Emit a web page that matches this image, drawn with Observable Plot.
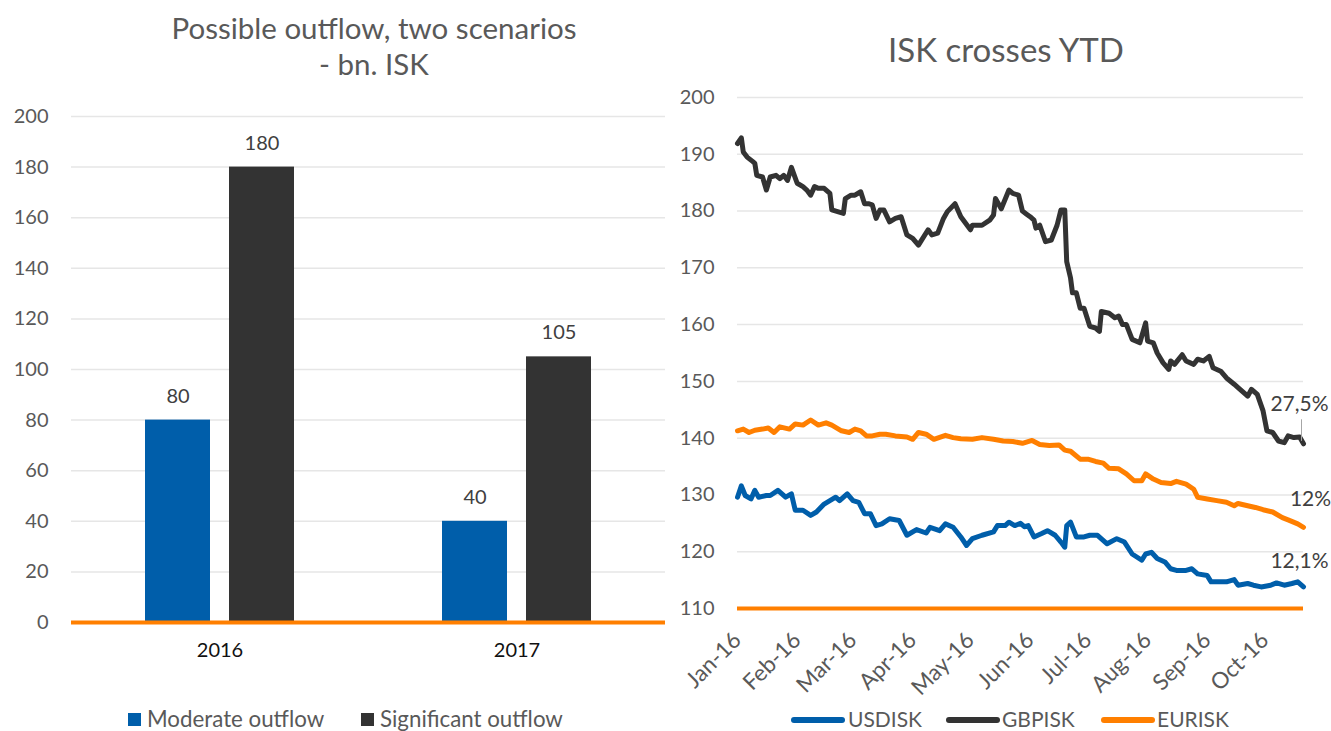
<!DOCTYPE html>
<html><head><meta charset="utf-8">
<script src="https://cdn.jsdelivr.net/npm/d3@7"></script>
<script src="https://cdn.jsdelivr.net/npm/@observablehq/plot@0.6"></script>
<style>
body{margin:0;background:#fff;font-family:Lato,"Open Sans",sans-serif;}
#root{position:relative;width:1331px;height:731px;overflow:hidden;background:#fff;}
.abs{position:absolute;}
.title{color:#595959;text-align:center;white-space:nowrap;}
.leg{position:absolute;color:#595959;font-size:21px;line-height:22px;white-space:nowrap;}
</style></head><body><div id="root">
<div class="abs title" style="left:0;width:748px;top:10px;font-size:29.5px;line-height:36px;">Possible outflow, two scenarios<br>- bn. ISK</div>
<div class="abs title" style="left:806px;width:400px;top:28px;font-size:33px;line-height:42px;">ISK crosses YTD</div>
<div id="left" class="abs" style="left:0;top:96px;"></div>
<div id="right" class="abs" style="left:660px;top:80px;"></div>
<div id="legLeft"></div>
<div id="legRight"></div>
</div>
<script>
// ---- Left chart data ----
const years = ["2016", "2017"];
const scenarios = ["Moderate outflow", "Significant outflow"];
const moderate = [80, 40];
const significant = [180, 105];
const leftTicks = [0, 20, 40, 60, 80, 100, 120, 140, 160, 180, 200];

// ---- Right chart data ----
const seriesNames = ["USDISK", "GBPISK", "EURISK"];
const endLabels = ["12,1%", "27,5%", "12%"];
const rightTicks = [110, 120, 130, 140, 150, 160, 170, 180, 190, 200];
const usdisk = [
["2016-01-01",129.6],["2016-01-03",131.6],["2016-01-05",129.9],["2016-01-08",129.3],["2016-01-10",130.8],
["2016-01-12",129.6],["2016-01-16",129.9],["2016-01-18",129.9],["2016-01-22",130.8],["2016-01-26",129.6],
["2016-01-29",130.2],["2016-01-31",127.3],["2016-02-04",127.3],["2016-02-08",126.4],["2016-02-11",127.0],
["2016-02-15",128.4],["2016-02-18",129.0],["2016-02-21",129.6],["2016-02-23",129.0],["2016-02-27",130.2],
["2016-03-01",129.0],["2016-03-04",128.7],["2016-03-07",126.7],["2016-03-10",126.7],["2016-03-13",124.6],
["2016-03-16",124.9],["2016-03-20",125.8],["2016-03-25",125.5],["2016-03-29",122.9],["2016-04-03",123.9],
["2016-04-08",123.3],["2016-04-10",124.3],["2016-04-15",123.7],["2016-04-18",124.9],["2016-04-22",124.3],
["2016-04-26",122.6],["2016-04-29",121.1],["2016-05-02",122.3],["2016-05-07",122.9],["2016-05-13",123.5],
["2016-05-15",124.6],["2016-05-19",124.6],["2016-05-21",125.2],["2016-05-24",124.6],["2016-05-27",125.0],
["2016-05-29",124.4],["2016-05-31",124.6],["2016-06-03",122.6],["2016-06-07",123.2],["2016-06-10",123.7],
["2016-06-14",122.9],["2016-06-17",121.7],["2016-06-19",120.8],["2016-06-20",124.6],["2016-06-22",125.2],
["2016-06-25",122.6],["2016-06-29",122.6],["2016-07-02",122.9],["2016-07-06",122.9],["2016-07-11",121.4],
["2016-07-16",122.3],["2016-07-20",121.7],["2016-07-24",119.6],["2016-07-29",118.5],["2016-07-31",119.6],
["2016-08-03",119.9],["2016-08-06",118.8],["2016-08-10",118.2],["2016-08-13",117.0],["2016-08-16",116.7],
["2016-08-21",116.7],["2016-08-24",117.0],["2016-08-27",116.1],["2016-09-01",115.8],["2016-09-03",114.7],
["2016-09-08",114.7],["2016-09-11",114.7],["2016-09-15",115.1],["2016-09-17",114.1],["2016-09-22",114.4],
["2016-09-25",114.1],["2016-09-29",113.8],["2016-10-04",114.1],["2016-10-07",114.5],["2016-10-11",114.1],
["2016-10-15",114.4],["2016-10-18",114.7],["2016-10-21",113.8]
];
const gbpisk = [
["2016-01-01",191.9],["2016-01-03",192.9],["2016-01-04",190.4],["2016-01-06",189.5],["2016-01-09",188.7],
["2016-01-10",188.4],["2016-01-11",186.3],["2016-01-14",186.0],["2016-01-16",183.7],["2016-01-18",186.0],
["2016-01-21",186.3],["2016-01-23",185.7],["2016-01-25",186.3],["2016-01-27",185.4],["2016-01-29",187.7],
["2016-02-01",184.9],["2016-02-04",184.3],["2016-02-06",183.7],["2016-02-08",182.8],["2016-02-10",184.3],
["2016-02-12",184.0],["2016-02-15",184.0],["2016-02-18",183.1],["2016-02-19",180.2],["2016-02-22",179.9],
["2016-02-25",179.6],["2016-02-26",182.2],["2016-02-29",182.8],["2016-03-02",182.8],["2016-03-05",183.4],
["2016-03-07",181.3],["2016-03-09",181.3],["2016-03-11",181.1],["2016-03-13",178.7],["2016-03-15",180.2],
["2016-03-17",180.2],["2016-03-20",178.1],["2016-03-23",178.7],["2016-03-26",179.0],["2016-03-29",175.8],
["2016-04-01",175.2],["2016-04-04",174.0],["2016-04-09",176.7],["2016-04-11",175.8],["2016-04-14",176.1],
["2016-04-17",178.7],["2016-04-19",179.9],["2016-04-23",181.3],["2016-04-26",179.0],["2016-05-01",176.7],
["2016-05-02",177.5],["2016-05-07",177.5],["2016-05-11",178.4],["2016-05-13",179.3],["2016-05-14",182.2],
["2016-05-17",180.4],["2016-05-21",183.7],["2016-05-23",183.1],["2016-05-26",182.8],["2016-05-28",180.0],
["2016-05-30",179.5],["2016-06-01",179.0],["2016-06-03",178.4],["2016-06-04",177.0],["2016-06-06",177.5],
["2016-06-09",174.6],["2016-06-12",174.9],["2016-06-15",177.5],["2016-06-17",180.2],["2016-06-19",180.2],
["2016-06-20",171.1],["2016-06-22",168.2],["2016-06-23",165.6],["2016-06-25",165.6],["2016-06-27",162.9],
["2016-06-29",162.9],["2016-07-02",159.7],["2016-07-05",159.4],["2016-07-07",158.8],["2016-07-08",162.3],
["2016-07-12",162.0],["2016-07-15",161.2],["2016-07-17",161.5],["2016-07-19",160.0],["2016-07-21",160.0],
["2016-07-24",157.4],["2016-07-28",156.8],["2016-07-31",160.3],["2016-08-01",157.1],["2016-08-04",156.8],
["2016-08-06",155.0],["2016-08-09",153.3],["2016-08-12",152.1],["2016-08-13",153.6],["2016-08-15",153.0],
["2016-08-19",154.7],["2016-08-21",153.6],["2016-08-25",153.0],["2016-08-27",153.9],["2016-08-30",153.6],
["2016-09-02",154.4],["2016-09-04",152.4],["2016-09-08",151.8],["2016-09-11",150.6],["2016-09-15",149.5],
["2016-09-17",148.9],["2016-09-21",147.7],["2016-09-22",147.4],["2016-09-24",148.6],["2016-09-27",147.7],
["2016-09-30",144.8],["2016-10-02",141.3],["2016-10-05",141.0],["2016-10-08",139.5],["2016-10-11",139.2],
["2016-10-13",140.4],["2016-10-16",140.1],["2016-10-19",140.2],["2016-10-21",139.0]
];
const eurisk = [
["2016-01-01",141.3],["2016-01-04",141.6],["2016-01-07",141.0],["2016-01-10",141.4],["2016-01-14",141.6],
["2016-01-17",141.8],["2016-01-20",141.0],["2016-01-23",142.0],["2016-01-28",141.6],["2016-01-31",142.5],
["2016-02-04",142.3],["2016-02-08",143.2],["2016-02-12",142.3],["2016-02-16",142.7],["2016-02-19",142.3],
["2016-02-24",141.3],["2016-02-28",141.0],["2016-03-02",141.6],["2016-03-05",141.3],["2016-03-08",140.4],
["2016-03-11",140.4],["2016-03-15",140.7],["2016-03-18",140.7],["2016-03-23",140.4],["2016-03-29",140.2],
["2016-04-01",139.8],["2016-04-04",141.0],["2016-04-08",140.7],["2016-04-12",139.8],["2016-04-18",140.5],
["2016-04-22",140.1],["2016-04-26",139.9],["2016-05-02",139.8],["2016-05-07",140.1],["2016-05-13",139.8],
["2016-05-18",139.5],["2016-05-23",139.4],["2016-05-28",139.1],["2016-06-02",139.6],["2016-06-06",138.9],
["2016-06-11",138.7],["2016-06-16",138.8],["2016-06-19",137.9],["2016-06-22",137.7],["2016-06-27",136.3],
["2016-07-01",136.3],["2016-07-05",135.9],["2016-07-09",135.6],["2016-07-12",134.7],["2016-07-17",134.6],
["2016-07-21",133.7],["2016-07-25",132.5],["2016-07-29",132.5],["2016-07-31",133.7],["2016-08-04",132.8],
["2016-08-08",132.2],["2016-08-13",132.0],["2016-08-16",132.4],["2016-08-21",131.9],["2016-08-25",131.0],
["2016-08-27",129.6],["2016-09-01",129.3],["2016-09-06",129.0],["2016-09-11",128.7],["2016-09-15",128.1],
["2016-09-17",128.5],["2016-09-22",128.1],["2016-09-26",127.8],["2016-09-30",127.4],["2016-10-05",127.0],
["2016-10-10",126.0],["2016-10-13",125.6],["2016-10-18",124.9],["2016-10-21",124.3]
];

// ---- styling ----
const BLUE = "#005EAA", DARK = "#333333", ORANGE = "#FF7F00";
const GRID = "#e6e6e6", TXT = "#595959", LBL = "#404040";
const FONT = "Lato, 'Open Sans', sans-serif";
const parse = d3.utcParse("%Y-%m-%d");

// ---- Left chart ----
const bars = [];
years.forEach((y, i) => {
  bars.push({year: y, series: scenarios[0], value: moderate[i]});
  bars.push({year: y, series: scenarios[1], value: significant[i]});
});
const left = Plot.plot({
  width: 670, height: 580,
  marginLeft: 70, marginRight: 5, marginTop: 20, marginBottom: 54,
  style: {fontFamily: FONT, fontSize: "20px", color: TXT, background: "transparent"},
  fx: {domain: years, padding: 0, label: null},
  x: {domain: scenarios, paddingInner: 0.2235, paddingOuter: 0.862, axis: null, label: null},
  y: {domain: [0, 200], label: null},
  color: {domain: scenarios, range: [BLUE, DARK]},
  marks: [
    Plot.gridY(leftTicks.filter(v => v > 0), {stroke: GRID, strokeOpacity: 1, strokeWidth: 1.5}),
    Plot.axisY(leftTicks, {tickSize: 0, tickPadding: 23, fontSize: 20, fill: TXT, label: null}),
    Plot.axisFx({anchor: "bottom", tickSize: 0, tickPadding: 20, fontSize: 20, fill: "#111", label: null}),
    Plot.barY(bars, {fx: "year", x: "series", y: "value", fill: "series"}),
    Plot.ruleY([0], {stroke: ORANGE, strokeWidth: 4}),
    Plot.text(bars, {fx: "year", x: "series", y: "value", text: d => String(d.value), dy: -24, fontSize: 20, fill: LBL})
  ]
});
document.getElementById("left").appendChild(left);

// ---- Right chart ----
const toRows = (arr, name) => arr.map(([d, v]) => ({date: parse(d), value: v, series: name}));
const rows = [toRows(usdisk, "USDISK"), toRows(gbpisk, "GBPISK"), toRows(eurisk, "EURISK")];
const colors = [BLUE, DARK, ORANGE];
const monthTicks = d3.utcMonth.range(parse("2016-01-01"), parse("2016-10-02"));
const labelOffsets = [{dx: -4, dy: -26}, {dx: -4, dy: -40}, {dx: 7, dy: -28}];

const rightMarks = [
  Plot.gridY(rightTicks.filter(v => v > 110), {stroke: GRID, strokeOpacity: 1, strokeWidth: 1.5}),
  Plot.axisY(rightTicks, {tickSize: 0, tickPadding: 23, fontSize: 20, fill: TXT, label: null}),
  Plot.axisX(monthTicks, {tickSize: 0, tickPadding: 28, tickRotate: -45, fontSize: 22.5, fill: TXT,
    tickFormat: d3.utcFormat("%b-%y"), label: null}),
  Plot.ruleY([110], {stroke: ORANGE, strokeWidth: 4})
];
rows.forEach((r, i) => {
  rightMarks.push(Plot.line(r, {x: "date", y: "value", stroke: colors[i], strokeWidth: 5,
    strokeLinejoin: "round", strokeLinecap: "round"}));
});
// leader line for GBP label
rightMarks.push(Plot.link(rows[1], Plot.selectLast({x1: "date", x2: "date", y1: "value", y2: d => d.value + 3.8,
  stroke: "#a6a6a6", strokeWidth: 1, dx: -2, dy: -3})));
rows.forEach((r, i) => {
  rightMarks.push(Plot.text(r, Plot.selectLast({x: "date", y: "value", text: () => endLabels[i],
    dx: labelOffsets[i].dx, dy: labelOffsets[i].dy, fontSize: 21, fill: LBL})));
});
const right = Plot.plot({
  width: 671, height: 620,
  marginLeft: 77, marginRight: 28, marginTop: 17, marginBottom: 92,
  style: {fontFamily: FONT, fontSize: "20px", color: TXT, background: "transparent", overflow: "visible"},
  x: {type: "utc", domain: [parse("2016-01-01"), parse("2016-10-21")], label: null},
  y: {domain: [110, 200], label: null},
  marks: rightMarks
});
document.getElementById("right").appendChild(right);

// ---- Legends ----
const legL = document.getElementById("legLeft");
const legLeftPos = [{sw: 128, tx: 147}, {sw: 361, tx: 380}];
scenarios.forEach((s, i) => {
  const sq = document.createElement("div");
  sq.style.cssText = `position:absolute;left:${legLeftPos[i].sw}px;top:713px;width:13px;height:13px;background:${[BLUE, DARK][i]};`;
  legL.appendChild(sq);
  const t = document.createElement("div");
  t.className = "leg";
  t.style.cssText += `left:${legLeftPos[i].tx}px;top:707px;font-size:22.3px;line-height:23px;`;
  t.textContent = s;
  legL.appendChild(t);
});
const legR = document.getElementById("legRight");
const legRightPos = [{sw: 791, tx: 848}, {sw: 946, tx: 1002}, {sw: 1101, tx: 1157}];
seriesNames.forEach((s, i) => {
  const ln = document.createElement("div");
  ln.style.cssText = `position:absolute;left:${legRightPos[i].sw}px;top:717px;width:54px;height:6px;border-radius:3px;background:${colors[i]};`;
  legR.appendChild(ln);
  const t = document.createElement("div");
  t.className = "leg";
  t.style.cssText += `left:${legRightPos[i].tx}px;top:708px;`;
  t.textContent = s;
  legR.appendChild(t);
});
</script>
</body></html>
